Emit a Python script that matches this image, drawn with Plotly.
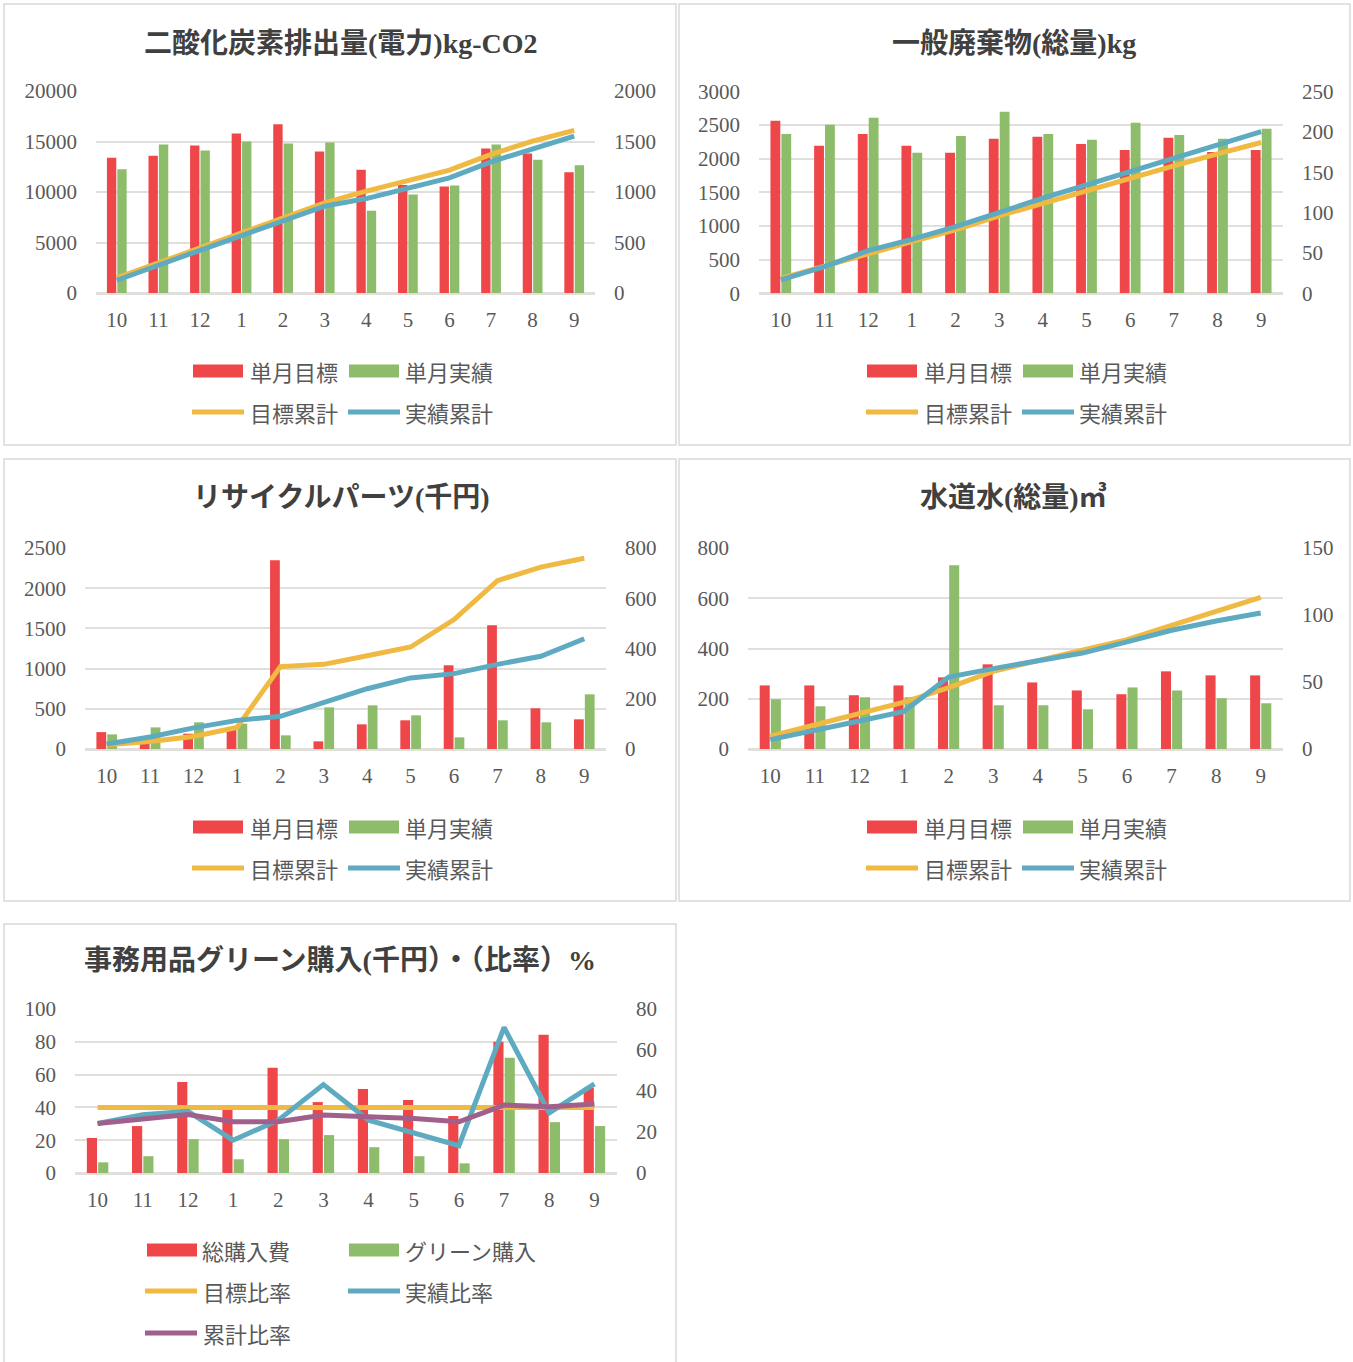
import plotly.graph_objects as go

W, H = 1353, 1362

# ---------------- data ----------------
months = ["10", "11", "12", "1", "2", "3", "4", "5", "6", "7", "8", "9"]

co2_target = [13400, 13600, 14600, 15800, 16700, 14000, 12200, 10700, 10550, 14300, 13800, 11950]
co2_actual = [12250, 14700, 14100, 15000, 14800, 14900, 8150, 9750, 10650, 14700, 13200, 12650]
co2_target_cum = [149, 298, 446, 595, 754, 893, 1008, 1107, 1217, 1372, 1504, 1610]
co2_actual_cum = [126, 281, 423, 569, 711, 860, 935, 1041, 1140, 1299, 1431, 1554]

waste_target = [2564, 2192, 2370, 2192, 2088, 2296, 2326, 2221, 2132, 2311, 2102, 2132]
waste_actual = [2370, 2504, 2608, 2088, 2340, 2698, 2370, 2281, 2534, 2355, 2296, 2445]
waste_target_cum = [18.6, 33, 48.8, 64, 78.5, 95.9, 111.6, 127, 142.6, 157.9, 172.7, 186.8]
waste_actual_cum = [16.5, 33, 52.9, 66.9, 82.6, 101, 117.8, 134.3, 150.8, 167.4, 185, 200.4]

recycle_target = [210, 90, 190, 250, 2347, 95, 307, 357, 1041, 1538, 506, 369]
recycle_actual = [182, 269, 332, 315, 170, 518, 543, 419, 145, 357, 332, 680]
recycle_target_cum = [17, 30, 50, 86, 328, 337, 371, 406, 515, 670, 724, 759]
recycle_actual_cum = [20, 48, 84, 114, 130, 184, 240, 283, 300, 337, 369, 439]

water_target = [253, 253, 214, 253, 285, 337, 265, 233, 218, 309, 293, 293]
water_actual = [198, 170, 206, 206, 731, 174, 174, 158, 245, 233, 202, 182]
water_target_cum = [9.5, 18.2, 26.4, 35, 45.8, 58, 66, 74, 81.6, 92.3, 102.7, 113.2]
water_actual_cum = [7, 13.7, 20.9, 28.1, 53.7, 60, 66, 71.6, 79.9, 88.6, 95.5, 101.5]

office_total = [17.1, 22.9, 44.4, 30.9, 51.3, 34.6, 41.0, 35.6, 27.8, 64.0, 67.4, 41.6]
office_green = [5.2, 8.2, 16.5, 6.7, 16.5, 18.5, 12.6, 8.2, 4.7, 56.2, 24.8, 22.9]
ratio_target = [40, 40, 40, 40, 40, 40, 40, 40, 40, 40, 40, 40]
ratio_actual = [30.2, 35.5, 37.6, 20.0, 32.2, 53.9, 32.2, 24.5, 16.7, 88.8, 36.7, 54.3]
ratio_cum = [30.2, 33.3, 35.7, 31.2, 31.2, 35.3, 34.3, 33.3, 31.2, 41.4, 40.4, 42.0]

titles = [
    "二酸化炭素排出量(電力)kg-CO2",
    "一般廃棄物(総量)kg",
    "リサイクルパーツ(千円)",
    "水道水(総量)㎥",
    "事務用品グリーン購入(千円）・（比率）%",
]

# ---------------- style ----------------
RED = "#ef4649"
GREEN = "#8dbd6b"
YELLOW = "#f0b942"
BLUE = "#5eaac1"
PURPLE = "#a0608b"
GRID = "#e0dfdb"
TICK = dict(family="Liberation Serif, Noto Sans CJK JP", size=21, color="#595959")
TITLEFONT = dict(family="Liberation Serif, Noto Sans CJK JP", size=28, color="#404040", weight="bold")
LEGFONT = dict(family="Noto Sans CJK JP", size=22, color="#595959")


def px(x):
    return x / W


def py(y):
    return 1 - y / H


fig = go.Figure()
shapes = []
annotations = []
layout = {}

panels = [
    dict(xd=(96, 595), yd=(91, 293), bars=[(co2_target, "単月目標", RED), (co2_actual, "単月実績", GREEN)],
         lines=[(co2_target_cum, "目標累計", YELLOW), (co2_actual_cum, "実績累計", BLUE)],
         lrange=(0, 20000, 5000), rrange=(0, 2000, 500), box=(4, 676, 4, 445), title=(341, 43)),
    dict(xd=(759, 1283), yd=(91.5, 293.3), bars=[(waste_target, "単月目標", RED), (waste_actual, "単月実績", GREEN)],
         lines=[(waste_target_cum, "目標累計", YELLOW), (waste_actual_cum, "実績累計", BLUE)],
         lrange=(0, 3000, 500), rrange=(0, 250, 50), box=(679, 1350, 4, 445), title=(1014, 43)),
    dict(xd=(85, 606), yd=(548, 749), bars=[(recycle_target, "単月目標", RED), (recycle_actual, "単月実績", GREEN)],
         lines=[(recycle_target_cum, "目標累計", YELLOW), (recycle_actual_cum, "実績累計", BLUE)],
         lrange=(0, 2500, 500), rrange=(0, 800, 200), box=(4, 676, 459, 901), title=(341, 497)),
    dict(xd=(748, 1283), yd=(548, 749), bars=[(water_target, "単月目標", RED), (water_actual, "単月実績", GREEN)],
         lines=[(water_target_cum, "目標累計", YELLOW), (water_actual_cum, "実績累計", BLUE)],
         lrange=(0, 800, 200), rrange=(0, 150, 50), box=(679, 1350, 459, 901), title=(1014, 497)),
    dict(xd=(75, 617), yd=(1009, 1173), bars=[(office_total, "総購入費", RED), (office_green, "グリーン購入", GREEN)],
         lines=[(ratio_target, "目標比率", YELLOW), (ratio_actual, "実績比率", BLUE), (ratio_cum, "累計比率", PURPLE)],
         lrange=(0, 100, 20), rrange=(0, 80, 20), box=(4, 676, 924, 1380), title=(340, 960)),
]

for i, p in enumerate(panels, start=1):
    xid = "x" if i == 1 else f"x{i}"
    xname = "xaxis" if i == 1 else f"xaxis{i}"
    nb, nl = 2 * i - 1, 2 * i
    ybid = "y" if nb == 1 else f"y{nb}"
    ybname = "yaxis" if nb == 1 else f"yaxis{nb}"
    ylid = f"y{nl}"
    ylname = f"yaxis{nl}"

    dom_x = [px(p["xd"][0]), px(p["xd"][1])]
    dom_y = [py(p["yd"][1]), py(p["yd"][0])]

    layout[xname] = dict(domain=dom_x, anchor=ybid, type="category", categoryorder="array",
                         categoryarray=months, showgrid=False, zeroline=False, showline=False,
                         ticks="", tickfont=TICK, ticklabelstandoff=12, fixedrange=True, automargin=False)

    office = (i == 5)
    if not office:
        bar_rng, line_rng = p["lrange"], p["rrange"]
        bar_side, line_side = "left", "right"
        bar_grid, line_grid = True, False
    else:
        bar_rng, line_rng = p["rrange"], p["lrange"]
        bar_side, line_side = "right", "left"
        bar_grid, line_grid = False, True

    common = dict(anchor=xid, tick0=0, showline=False, ticks="", tickfont=TICK, ticklabelstandoff=18,
                  fixedrange=True, tickformat="d", gridcolor=GRID, gridwidth=2,
                  zerolinecolor=GRID, zerolinewidth=2.5, automargin=False)
    layout[ybname] = dict(domain=dom_y, side=bar_side, range=[bar_rng[0], bar_rng[1]],
                          dtick=bar_rng[2], showgrid=bar_grid, zeroline=bar_grid, **common)
    layout[ylname] = dict(overlaying=ybid, side=line_side, range=[line_rng[0], line_rng[1]],
                          dtick=line_rng[2], showgrid=line_grid, zeroline=line_grid, **common)

    for vals, name, col in p["bars"]:
        fig.add_trace(go.Bar(x=months, y=vals, name=name, marker=dict(color=col, line=dict(width=0)),
                             xaxis=xid, yaxis=ybid, showlegend=False))
    for vals, name, col in p["lines"]:
        fig.add_trace(go.Scatter(x=months, y=vals, name=name, mode="lines",
                                 line=dict(color=col, width=5), xaxis=xid, yaxis=ylid, showlegend=False))

    # panel border
    bx0, bx1, by0, by1 = p["box"]
    shapes.append(dict(type="rect", xref="paper", yref="paper", x0=px(bx0), x1=px(bx1), y0=py(by1), y1=py(by0),
                       line=dict(color="#d9d9d9", width=1.5), fillcolor="rgba(0,0,0,0)", layer="below"))
    # title
    annotations.append(dict(text=titles[i - 1], x=px(p["title"][0]), y=py(p["title"][1]), xref="paper", yref="paper",
                            xanchor="center", yanchor="middle", showarrow=False, font=TITLEFONT))

# ---------------- custom legends ----------------
def legend_bar(x0, yc, col, label, tx):
    shapes.append(dict(type="rect", xref="paper", yref="paper", x0=px(x0), x1=px(x0 + 50),
                       y0=py(yc + 6.5), y1=py(yc - 6.5), fillcolor=col, line=dict(width=0)))
    annotations.append(dict(text=label, x=px(tx), y=py(yc), xref="paper", yref="paper", xanchor="left",
                            yanchor="middle", showarrow=False, font=LEGFONT))


def legend_line(x0, yc, col, label, tx):
    shapes.append(dict(type="line", xref="paper", yref="paper", x0=px(x0), x1=px(x0 + 52),
                       y0=py(yc), y1=py(yc), line=dict(color=col, width=5)))
    annotations.append(dict(text=label, x=px(tx), y=py(yc), xref="paper", yref="paper", xanchor="left",
                            yanchor="middle", showarrow=False, font=LEGFONT))


for dx, dy in [(0, 0), (674, 0), (0, 456), (674, 456)]:
    legend_bar(193 + dx, 371 + dy, RED, "単月目標", 248 + dx)
    legend_bar(349 + dx, 371 + dy, GREEN, "単月実績", 403 + dx)
    legend_line(192 + dx, 412 + dy, YELLOW, "目標累計", 248 + dx)
    legend_line(348 + dx, 412 + dy, BLUE, "実績累計", 403 + dx)

legend_bar(147, 1250, RED, "総購入費", 200)
legend_bar(349, 1250, GREEN, "グリーン購入", 403)
legend_line(145, 1291, YELLOW, "目標比率", 201)
legend_line(348, 1291, BLUE, "実績比率", 403)
legend_line(145, 1333, PURPLE, "累計比率", 201)

fig.update_layout(
    width=W, height=H, autosize=False,
    margin=dict(l=0, r=0, t=0, b=0, pad=0, autoexpand=False),
    paper_bgcolor="white", plot_bgcolor="white",
    barmode="group", bargap=0.5, bargroupgap=0.1,
    showlegend=False, shapes=shapes, annotations=annotations,
    **layout,
)

post = ("var d=document.getElementById('{plot_id}');"
        "d.style.position='fixed';d.style.top='0px';d.style.left='0px';"
        "document.documentElement.style.margin='0';document.documentElement.style.overflow='hidden';"
        "document.body.style.margin='0';document.body.style.padding='0';document.body.style.overflow='hidden';")
fig.write_html("out.html", post_script=post, config={"displayModeBar": False})
